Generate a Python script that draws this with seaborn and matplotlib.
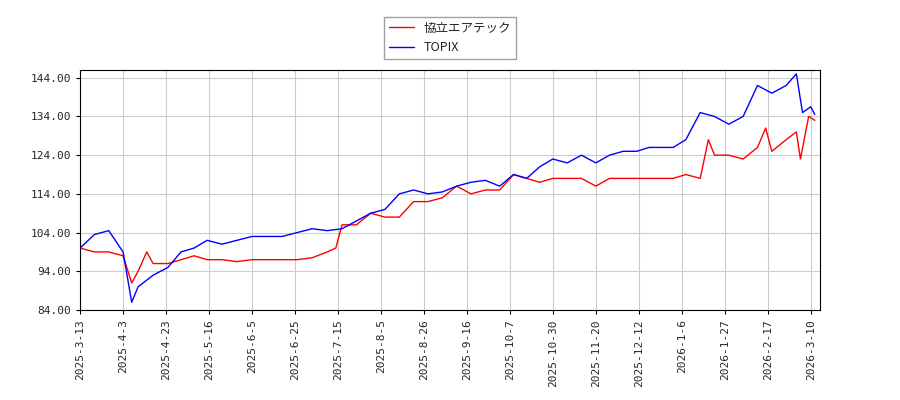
import matplotlib
matplotlib.use("Agg")
import matplotlib.pyplot as plt
import seaborn as sns
import pandas as pd
import numpy as np

red_dates = ["2025-03-13","2025-03-20","2025-03-27","2025-04-03","2025-04-07","2025-04-10","2025-04-14","2025-04-17","2025-04-24","2025-05-01","2025-05-08","2025-05-15","2025-05-22","2025-05-29","2025-06-05","2025-06-12","2025-06-19","2025-06-26","2025-07-03","2025-07-10","2025-07-14","2025-07-17","2025-07-24","2025-07-31","2025-08-07","2025-08-14","2025-08-21","2025-08-28","2025-09-04","2025-09-11","2025-09-18","2025-09-25","2025-10-02","2025-10-09","2025-10-16","2025-10-23","2025-10-30","2025-11-06","2025-11-13","2025-11-20","2025-11-27","2025-12-04","2025-12-11","2025-12-18","2025-12-25","2026-01-01","2026-01-08","2026-01-15","2026-01-19","2026-01-22","2026-01-29","2026-02-05","2026-02-12","2026-02-16","2026-02-19","2026-02-26","2026-03-03","2026-03-05","2026-03-09","2026-03-12"]
red_vals = [100,99,99,98,91,94,99,96,96,97,98,97,97,96.5,97,97,97,97,97.5,99,100,106,106,109,108,108,112,112,113,116,114,115,115,119,118,117,118,118,118,116,118,118,118,118,118,118,119,118,128,124,124,123,126,131,125,128,130,123,134,133]

blue_dates = ["2025-03-13","2025-03-20","2025-03-27","2025-04-03","2025-04-07","2025-04-10","2025-04-17","2025-04-24","2025-05-01","2025-05-08","2025-05-15","2025-05-22","2025-05-29","2025-06-05","2025-06-12","2025-06-19","2025-06-26","2025-07-03","2025-07-10","2025-07-17","2025-07-24","2025-07-31","2025-08-07","2025-08-14","2025-08-21","2025-08-28","2025-09-04","2025-09-11","2025-09-18","2025-09-25","2025-10-02","2025-10-09","2025-10-16","2025-10-23","2025-10-30","2025-11-06","2025-11-13","2025-11-20","2025-11-27","2025-12-04","2025-12-11","2025-12-18","2025-12-25","2026-01-01","2026-01-08","2026-01-15","2026-01-22","2026-01-29","2026-02-05","2026-02-12","2026-02-19","2026-02-26","2026-03-03","2026-03-06","2026-03-10","2026-03-12"]
blue_vals = [100,103.5,104.5,99,86,90,93,95,99,100,102,101,102,103,103,103,104,105,104.5,105,107,109,110,114,115,114,114.5,116,117,117.5,116,119,118,121,123,122,124,122,124,125,125,126,126,126,128,135,134,132,134,142,140,142,145,135,136.5,134.5]

tick_labels = ["2025-3-13","2025-4-3","2025-4-23","2025-5-16","2025-6-5","2025-6-25","2025-7-15","2025-8-5","2025-8-26","2025-9-16","2025-10-7","2025-10-30","2025-11-20","2025-12-12","2026-1-6","2026-1-27","2026-2-17","2026-3-10"]
yticks = [84,94,104,114,124,134,144]

# trading-day axis: each tick label sits 14 sessions apart
tick_pos = np.arange(len(tick_labels)) * 14
tick_ord = pd.to_datetime(tick_labels).map(pd.Timestamp.toordinal).values
def to_pos(ds):
    o = pd.to_datetime(ds).map(pd.Timestamp.toordinal).values
    return np.interp(o, tick_ord, tick_pos, right=None) if False else np.interp(o, tick_ord, tick_pos) + np.where(o > tick_ord[-1], (o - tick_ord[-1]) * 14 / 21, 0)

sns.set_style("white")
plt.rcParams['font.family'] = ['Noto Sans CJK JP', 'DejaVu Sans']
fig = plt.figure(figsize=(9,4), dpi=100)
ax = fig.add_axes([0.089,0.225,0.822,0.60])
sns.lineplot(x=to_pos(red_dates), y=red_vals, color="red", lw=1, ax=ax, label="協立エアテック")
sns.lineplot(x=to_pos(blue_dates), y=blue_vals, color="blue", lw=1, ax=ax, label="TOPIX")
ax.set_xticks(tick_pos)
ax.set_xticklabels(tick_labels, rotation=90, fontsize=8, family="DejaVu Sans Mono")
ax.set_yticks(yticks)
ax.set_yticklabels([f"{v:.2f}" for v in yticks], fontsize=8, family="DejaVu Sans Mono")
ax.set_ylim(84,146)
ax.set_xlim(0, 241)
ax.set_xlabel(""); ax.set_ylabel("")
ax.grid(True, color="#cccccc", lw=0.8)
for s in ax.spines.values():
    s.set_color("black"); s.set_linewidth(0.8)
ax.tick_params(length=3, color="black", bottom=True, left=True)
ax.legend(loc="lower center", bbox_to_anchor=(0.5,1.02), fontsize=9, frameon=True, fancybox=False, edgecolor="#888888")
fig.savefig("out.png")
